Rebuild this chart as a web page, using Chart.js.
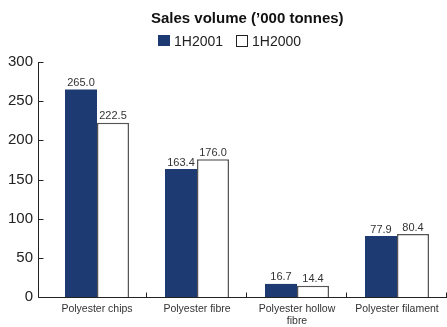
<!DOCTYPE html>
<html>
<head>
<meta charset="utf-8">
<script src="https://cdn.jsdelivr.net/npm/chart.js@4/dist/chart.umd.min.js"></script>
<style>
  html, body { margin: 0; padding: 0; background: #fff; }
  #wrap { width: 447px; height: 327px; position: relative; }
</style>
</head>
<body>
<div id="wrap"><canvas id="salesChart" width="447" height="327"></canvas></div>
<script>
var categories = ["Polyester chips", "Polyester fibre", ["Polyester hollow", "fibre"], "Polyester filament"];
var seriesNames = ["1H2001", "1H2000"];
var sales2001 = [265.0, 163.4, 16.7, 77.9];
var sales2000 = [222.5, 176.0, 14.4, 80.4];
var yTicks = [0, 50, 100, 150, 200, 250, 300];

var FONT = '"Liberation Sans", Arial, sans-serif';
var navy = '#1d3a73';
var axisColor = '#222';
var AXIS_X = 38; // y axis line sits a little left of the first category

// title, legend, axis lines with inward ticks, value labels above bars
var decorations = {
  id: 'decorations',
  afterDraw: function(chart) {
    var ctx = chart.ctx;
    var area = chart.chartArea;
    var x = chart.scales.x;
    var y = chart.scales.y;
    ctx.save();

    ctx.fillStyle = '#111';
    ctx.font = 'bold 15px ' + FONT;
    ctx.textAlign = 'left';
    ctx.textBaseline = 'alphabetic';
    ctx.fillText("Sales volume (\u2019000 tonnes)", 151, 23);

    // legend
    ctx.font = '14px ' + FONT;
    ctx.fillStyle = navy;
    ctx.fillRect(158, 35, 12, 11);
    ctx.fillStyle = '#222';
    ctx.fillText(seriesNames[0], 174, 46);
    ctx.strokeStyle = '#222';
    ctx.lineWidth = 1;
    ctx.strokeRect(236.5, 35.5, 11, 11);
    ctx.fillText(seriesNames[1], 252, 46);

    // axes
    var ax = AXIS_X + 0.5;
    var bottom = Math.round(y.getPixelForValue(0)) + 0.5;
    ctx.strokeStyle = axisColor;
    ctx.lineWidth = 1;
    ctx.beginPath();
    ctx.moveTo(ax, Math.round(y.getPixelForValue(300)));
    ctx.lineTo(ax, bottom);
    ctx.lineTo(area.right, bottom);
    ctx.stroke();

    yTicks.forEach(function(v) {
      var py = Math.round(y.getPixelForValue(v)) + 0.5;
      ctx.beginPath();
      ctx.moveTo(ax, py);
      ctx.lineTo(ax + 5, py);
      ctx.stroke();
    });

    var half = (x.getPixelForValue(1) - x.getPixelForValue(0)) / 2;
    categories.forEach(function(c, i) {
      var px = Math.round(x.getPixelForValue(i) + half) - 0.5;
      ctx.beginPath();
      ctx.moveTo(px, bottom);
      ctx.lineTo(px, bottom - 5);
      ctx.stroke();
    });

    // value labels
    ctx.font = '11px ' + FONT;
    ctx.fillStyle = '#333';
    ctx.textAlign = 'center';
    ctx.textBaseline = 'bottom';
    chart.data.datasets.forEach(function(ds, di) {
      chart.getDatasetMeta(di).data.forEach(function(bar, i) {
        ctx.fillText(ds.data[i].toFixed(1), bar.x, bar.y - 1);
      });
    });
    ctx.restore();
  }
};

new Chart(document.getElementById('salesChart'), {
  type: 'bar',
  data: {
    labels: categories,
    datasets: [{
      label: seriesNames[0],
      data: sales2001,
      backgroundColor: navy,
      borderWidth: 0
    }, {
      label: seriesNames[1],
      data: sales2000,
      backgroundColor: '#fff',
      borderColor: '#555',
      borderWidth: 1.5,
      borderSkipped: 'bottom'
    }]
  },
  options: {
    responsive: false,
    animation: false,
    layout: { padding: { top: 62, right: 0, left: 0, bottom: 0 } },
    datasets: { bar: { categoryPercentage: 0.64, barPercentage: 1 } },
    plugins: {
      legend: { display: false },
      title: { display: false },
      tooltip: { enabled: false }
    },
    scales: {
      x: {
        afterFit: function(s) { s.height = 30; },
        grid: { display: false, drawTicks: false },
        border: { display: false },
        ticks: { color: '#333', font: { family: FONT, size: 10.5, lineHeight: 1.15 }, padding: 6, maxRotation: 0, autoSkip: false }
      },
      y: {
        min: 0,
        max: 300,
        afterFit: function(s) { s.width = 47; },
        afterBuildTicks: function(s) { s.ticks = yTicks.map(function(v) { return { value: v }; }); },
        grid: { display: false, drawTicks: false },
        border: { display: false },
        ticks: { color: '#222', font: { family: FONT, size: 15 }, padding: 14 }
      }
    }
  },
  plugins: [decorations]
});
</script>
</body>
</html>
